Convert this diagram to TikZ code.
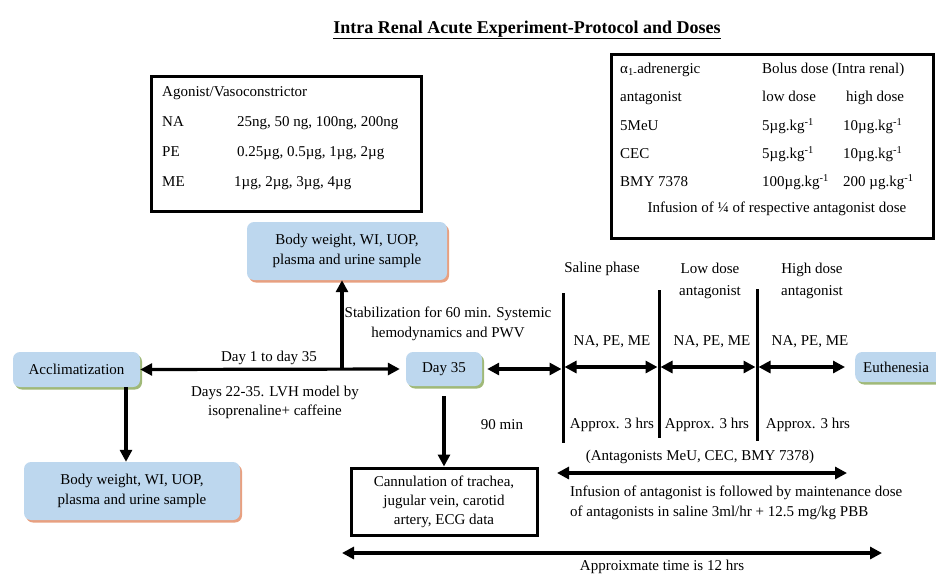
\documentclass[tikz,border=0pt]{standalone}
\usepackage{fontspec}
\setmainfont{Liberation Serif}
\usetikzlibrary{arrows.meta,shadows}
\definecolor{boxblue}{RGB}{189,215,238}
\definecolor{shsalmon}{RGB}{232,160,128}
\definecolor{shgreen}{RGB}{160,185,120}
\tikzset{
 tx/.style={font=\fontsize{15}{19.5}\selectfont, inner sep=0pt, text height=11pt, text depth=3.5pt},
 mtx/.style={font=\fontsize{15}{19.5}\selectfont, inner sep=0pt, align=center},
 bbox/.style={rounded corners=7pt, fill=boxblue, align=center, font=\fontsize{15}{20}\selectfont, inner sep=0pt},
 shsal/.style={drop shadow={shadow xshift=2pt,shadow yshift=-2.5pt,fill=shsalmon,opacity=1}},
 shgrn/.style={drop shadow={shadow xshift=2pt,shadow yshift=-2.5pt,fill=shgreen,opacity=1}},
 arr/.style={line width=3.2pt, -{Triangle[length=12pt,width=12pt]}},
 darr/.style={line width=3.2pt, {Triangle[length=12pt,width=12pt]}-{Triangle[length=12pt,width=12pt]}},
 frame/.style={draw, line width=3pt, inner sep=0pt},
 vbar/.style={line width=3pt},
}
\begin{document}
\begin{tikzpicture}[x=1pt,y=-1pt]
\useasboundingbox (0,0) rectangle (936,574);
% title
\node[inner sep=0pt, font=\fontsize{18}{20}\selectfont\bfseries] (title) at (527,30) {\underline{Intra Renal Acute Experiment-Protocol and Doses}};
% agonist box
\node[frame, anchor=north west, minimum width=270pt, minimum height=135pt] (agbox) at (150,75) {};
\node[tx, anchor=west] (ag0) at (162,93) {Agonist/Vasoconstrictor};
\node[tx, anchor=west] (ag1) at (162,123) {NA};
\node[tx, anchor=west] (ag1v) at (237,123) {25ng, 50 ng, 100ng, 200ng};
\node[tx, anchor=west] (ag2) at (162,153) {PE};
\node[tx, anchor=west] (ag2v) at (237,153) {0.25µg, 0.5µg, 1µg, 2µg};
\node[tx, anchor=west] (ag3) at (162,183) {ME};
\node[tx, anchor=west] (ag3v) at (234,183) {1µg, 2µg, 3µg, 4µg};
% antagonist box
\node[frame, anchor=north west, minimum width=322pt, minimum height=184pt] (anbox) at (610,53) {};
\node[tx, anchor=west] (an0) at (620,70) {α\textsubscript{1-}adrenergic};
\node[tx, anchor=west] (an0b) at (762,70) {Bolus dose (Intra renal)};
\node[tx, anchor=west] (an1) at (620,98) {antagonist};
\node[tx, anchor=west] (an1b) at (762,98) {low dose};
\node[tx, anchor=west] (an1c) at (846,98) {high dose};
\node[tx, anchor=west] (an2) at (620,127) {5MeU};
\node[tx, anchor=west] (an2b) at (762,127) {5µg.kg\textsuperscript{-1}};
\node[tx, anchor=west] (an2c) at (843,127) {10µg.kg\textsuperscript{-1}};
\node[tx, anchor=west] (an3) at (620,155) {CEC};
\node[tx, anchor=west] (an3b) at (762,155) {5µg.kg\textsuperscript{-1}};
\node[tx, anchor=west] (an3c) at (843,155) {10µg.kg\textsuperscript{-1}};
\node[tx, anchor=west] (an4) at (620,183) {BMY 7378};
\node[tx, anchor=west] (an4b) at (762,183) {100µg.kg\textsuperscript{-1}};
\node[tx, anchor=west] (an4c) at (843,183) {200 µg.kg\textsuperscript{-1}};
\node[tx] (an5) at (777,209) {Infusion of ¼ of respective antagonist dose};
% blue boxes
\node[bbox, shsal, minimum width=200pt, minimum height=58pt] (top) at (347,251) {Body weight, WI, UOP,\\plasma and urine sample};
\node[bbox, shsal, minimum width=216pt, minimum height=58pt] (bot) at (132,491) {Body weight, WI, UOP,\\plasma and urine sample};
\node[bbox, shgrn, minimum width=127pt, minimum height=35pt] (acc) at (76.5,369.5) {Acclimatization};
\node[bbox, shgrn, minimum width=76pt, minimum height=34pt] (d35) at (444,369) {Day 35};
\node[bbox, shgrn, anchor=west, inner xsep=8pt, text width=80pt, align=left, minimum height=30pt] (eut) at (855,367) {Euthenesia};
\node[frame, minimum width=186pt, minimum height=67pt, align=center, font=\fontsize{15}{19}\selectfont] (can) at (444,501.5) {Cannulation of trachea,\\jugular vein, carotid\\artery, ECG data};
% connectors
\draw[darr] (acc.east) -- ([xshift=-6pt]d35.west);
\coordinate (j) at (342,369);
\draw[arr] (j) -- (j |- top.south);
\draw[arr] ([xshift=49.5pt]acc.south) -- ([xshift=49.5pt]acc.south |- bot.north);
\draw[arr] ([yshift=-10pt]d35.south) -- (can.north);
% phase bars
\coordinate (v1t) at (563,293); \coordinate (v1b) at (563,443);
\coordinate (v2t) at (659,290); \coordinate (v2b) at (659,438);
\coordinate (v3t) at (757,289); \coordinate (v3b) at (757,441);
\draw[vbar] (v1t) -- (v1b);
\draw[vbar] (v2t) -- (v2b);
\draw[vbar] (v3t) -- (v3b);
\coordinate (v1m) at (563,369);
\coordinate (v1a) at (563,367);
\coordinate (v2a) at (659,367);
\coordinate (v3a) at (757,367);
\draw[darr, shorten >=1.5pt] ([xshift=5pt]d35.east) -- (v1m);
\draw[darr, shorten >=1.5pt, shorten <=1.5pt] (v1a) -- (v2a);
\draw[darr, shorten >=1.5pt, shorten <=1.5pt] (v2a) -- (v3a);
\draw[darr, shorten >=10pt, shorten <=1.5pt] (v3a) -- (eut.west);
\coordinate (i1) at (557,473); \coordinate (i2) at (847,473);
\draw[darr] (i1) -- (i2);
\coordinate (t1) at (342,553); \coordinate (t2) at (882,553);
\draw[darr] (t1) -- (t2);
% labels
\node[tx] (day1) at (269,358) {Day 1 to day 35};
\node[mtx] (stab) at (448,324) {Stabilization for 60 min. Systemic\\hemodynamics and PWV};
\node[mtx] (lvh) at (275,402.5) {Days 22-35. LVH model by\\isoprenaline+ caffeine};
\node[tx] (sal) at (602,269) {Saline phase};
\node[mtx, font=\fontsize{15}{22}\selectfont] (low) at (710,281) {Low dose\\antagonist};
\node[mtx, font=\fontsize{15}{22}\selectfont] (high) at (812,281) {High dose\\antagonist};
\node[tx] (n1) at (612,342) {NA, PE, ME};
\node[tx] (n2) at (712,342) {NA, PE, ME};
\node[tx] (n3) at (810,342) {NA, PE, ME};
\node[tx] (a1) at (612,425) {Approx. 3 hrs};
\node[tx] (a2) at (707,425) {Approx. 3 hrs};
\node[tx] (a3) at (808,425) {Approx. 3 hrs};
\node[tx] (m90) at (502,426) {90 min};
\node[tx] (antg) at (700,457) {(Antagonists MeU, CEC, BMY 7378)};
\node[mtx, anchor=west, align=left, font=\fontsize{15}{20}\selectfont] (inf) at (570,503) {Infusion of antagonist is followed by maintenance dose\\of antagonists in saline 3ml/hr + 12.5 mg/kg PBB};
\node[tx] (appx) at (662,567) {Approixmate time is 12 hrs};
\end{tikzpicture}
\end{document}
